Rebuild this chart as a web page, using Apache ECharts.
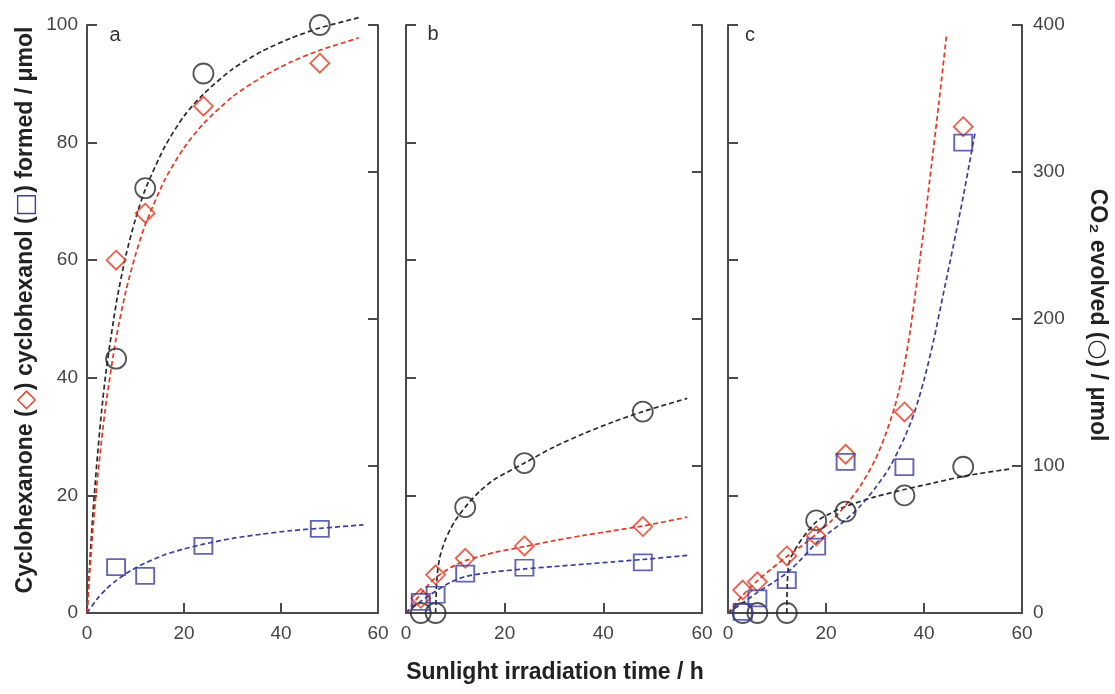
<!DOCTYPE html>
<html>
<head>
<meta charset="utf-8">
<title>Photocatalytic oxidation under sunlight</title>
<script src="https://cdn.jsdelivr.net/npm/echarts@6/dist/echarts.min.js"></script>
<style>
  html, body { margin: 0; padding: 0; background: #fff; }
  #chart { width: 1115px; height: 694px; }
</style>
</head>
<body>
<div id="chart"></div>
<script>
// Sampling times (h) for each panel
const hoursA = [6, 12, 24, 48];
const hoursB = [3, 6, 12, 24, 48];
const hoursC = [3, 6, 12, 18, 24, 36, 48];

// Cyclohexanone (µmol), left axis
const ketoneA = [60.0, 68.0, 86.2, 93.5];
const ketoneB = [2.5, 6.5, 9.3, 11.4, 14.7];
const ketoneC = [3.9, 5.3, 9.7, 13.1, 27.0, 34.2, 82.7];

// Cyclohexanol (µmol), left axis
const alcoholA = [7.8, 6.3, 11.4, 14.3];
const alcoholB = [1.9, 3.1, 6.7, 7.7, 8.6];
const alcoholC = [0.2, 2.5, 5.6, 11.3, 25.7, 24.8, 80.0];

// CO2 evolved (µmol), right axis
const co2A = [173, 289, 367, 400];
const co2B = [0, 0, 72, 102, 137];
const co2C = [0, 0, 0, 63, 69, 80, 99.5];

// Fitted trend curves, [time, amount]
const fitKetoneA = [[0,0],[1,11.9],[2,21.5],[3,29.4],[4,36.1],[6,46.7],[8,54.7],[10,60.9],[12,66.0],[16,73.6],[20,79.1],[24,83.2],[30,87.8],[36,91.1],[42,93.7],[48,95.7],[56,97.8]];
const fitAlcoholA = [[0,0],[2,2.3],[4,4.1],[6,5.5],[9,7.2],[12,8.5],[16,9.9],[20,10.9],[24,11.7],[30,12.7],[36,13.4],[42,14.0],[48,14.4],[57,15.0]];
const fitCo2A = [[0,0],[1,57],[2,101],[3,137],[4,166],[6,210],[8,243],[10,268],[12,288],[16,317],[20,338],[24,353],[30,370],[36,382],[42,391],[48,398],[56,405]];

const fitKetoneB = [[0,0],[2,2.2],[4,4.3],[6,6.0],[9,7.7],[12,8.9],[18,10.3],[24,11.3],[30,12.3],[36,13.2],[42,14.0],[48,14.8],[57,16.3]];
const fitAlcoholB = [[0,0],[3,2.0],[6,3.7],[9,5.2],[12,6.2],[18,7.0],[24,7.5],[30,7.9],[36,8.3],[42,8.7],[48,9.1],[57,9.8]];
const fitCo2B = [[6,0],[6.2,20],[6.5,31],[7,40],[8,50],[9,57],[10,63],[12,72],[15,83],[18,91],[24,102],[30,113],[36,122],[42,130],[48,137],[57,146]];

const fitKetoneC = [[0,0],[3,3.0],[6,5.5],[9,7.6],[12,9.6],[15,11.4],[18,13.4],[21,15.6],[24,18.3],[27,21.6],[30,26],[32,30],[34,35],[35.5,40],[37,47],[38.5,56],[40,65.5],[41.5,76],[43,86.5],[44.6,98.3]];
const fitAlcoholC = [[0,0],[3,1.7],[6,3.5],[9,5.1],[12,6.8],[15,9.2],[18,11.9],[21,13.9],[24,15.8],[27,18.2],[30,21.2],[33,24.8],[36,29.8],[38,34],[40,39.6],[42,46.5],[44,54.5],[46,62.5],[48,70.8],[49.5,77.5],[50.4,81.6]];
const fitCo2C = [[12,0],[12.1,20],[12.4,33],[13,39],[15,50],[18,62],[21,68],[24,72.5],[30,79],[36,84],[42,88.5],[48,93],[57.5,98]];

// Axis tick settings
const timeTicks = { min: 0, max: 60, interval: 20 };
const amountTicks = { min: 0, max: 100, interval: 20 };
const co2Ticks = { min: 0, max: 400, interval: 100 };

const FONT = "'Liberation Sans', Arial, Helvetica, sans-serif";
const AXIS_COLOR = '#4a4a4a';
const LABEL_COLOR = '#444';
const BLACK = '#2a2a2a';
const RED = '#e8361f';
const BLUE = '#3b3f9e';

const zip = (xs, ys) => xs.map((x, i) => [x, ys[i]]);

const panels = [
  { left: 87,  width: 291, hours: hoursA, ketone: ketoneA, alcohol: alcoholA, co2: co2A,
    fits: [fitCo2A, fitKetoneA, fitAlcoholA], leftLabels: true, rightLabels: false },
  { left: 406, width: 296, hours: hoursB, ketone: ketoneB, alcohol: alcoholB, co2: co2B,
    fits: [fitCo2B, fitKetoneB, fitAlcoholB], leftLabels: false, rightLabels: false },
  { left: 728, width: 294, hours: hoursC, ketone: ketoneC, alcohol: alcoholC, co2: co2C,
    fits: [fitCo2C, fitKetoneC, fitAlcoholC], leftLabels: false, rightLabels: true }
];

const axisLine = { show: true, onZero: false, lineStyle: { color: AXIS_COLOR, width: 2 } };
const axisTick = { show: true, inside: true, length: 10, lineStyle: { color: AXIS_COLOR, width: 2 } };
const labelStyle = { color: LABEL_COLOR, fontSize: 19, fontFamily: FONT };

const grid = [], xAxis = [], yAxis = [], series = [];

panels.forEach((p, i) => {
  grid.push({ left: p.left, width: p.width, top: 25, height: 588, containLabel: false });
  xAxis.push(Object.assign({
    type: 'value', gridIndex: i, position: 'bottom',
    axisLine, axisTick, splitLine: { show: false },
    axisLabel: Object.assign({ margin: 11, showMinLabel: true, showMaxLabel: true }, labelStyle)
  }, timeTicks));
  yAxis.push(Object.assign({
    type: 'value', gridIndex: i, position: 'left',
    axisLine, axisTick, splitLine: { show: false },
    axisLabel: Object.assign({ show: p.leftLabels, margin: 9 }, labelStyle)
  }, amountTicks));
  yAxis.push(Object.assign({
    type: 'value', gridIndex: i, position: 'right',
    axisLine, axisTick, splitLine: { show: false },
    axisLabel: Object.assign({ show: p.rightLabels, margin: 11, align: 'left' }, labelStyle)
  }, co2Ticks));

  const colors = [BLACK, RED, BLUE];
  const yIdx = [2 * i + 1, 2 * i, 2 * i];
  p.fits.forEach((fit, k) => {
    series.push({
      type: 'line', xAxisIndex: i, yAxisIndex: yIdx[k], data: fit,
      smooth: 0.25, showSymbol: false, clip: false, silent: true,
      lineStyle: { color: colors[k], width: 1.7, type: [5, 3] }, z: 2
    });
  });

  const marker = (data, yi, symbol, size, color) => ({
    type: 'scatter', xAxisIndex: i, yAxisIndex: yi, data,
    symbol, symbolSize: size, clip: false, silent: true,
    itemStyle: { color: 'rgba(0,0,0,0)', borderColor: color, borderWidth: 1.8 }, z: 3
  });
  series.push(marker(zip(p.hours, p.co2), 2 * i + 1, 'circle', 20, BLACK));
  series.push(marker(zip(p.hours, p.ketone), 2 * i, 'diamond', [19, 19], RED));
  series.push(marker(zip(p.hours, p.alcohol), 2 * i, 'rect', [18, 16], BLUE));
});

const titleStyle = { fontFamily: FONT, fontSize: 23, fontWeight: 'bold', fill: '#222' };

const option = {
  animation: false,
  backgroundColor: '#fff',
  grid, xAxis, yAxis, series,
  graphic: [
    { type: 'text', x: 115, y: 35, style: { text: 'a', font: '20px ' + FONT, fill: '#333', align: 'center', verticalAlign: 'middle' } },
    { type: 'text', x: 433, y: 34, style: { text: 'b', font: '20px ' + FONT, fill: '#333', align: 'center', verticalAlign: 'middle' } },
    { type: 'text', x: 750, y: 35, style: { text: 'c', font: '20px ' + FONT, fill: '#333', align: 'center', verticalAlign: 'middle' } },
    {
      type: 'text', x: 555, y: 673,
      style: Object.assign({ text: 'Sunlight irradiation time / h', align: 'center', verticalAlign: 'middle' }, titleStyle)
    },
    {
      type: 'text', x: 26, y: 310, rotation: Math.PI / 2,
      style: Object.assign({
        text: 'Cyclohexanone ({r|◇}) cyclohexanol ({b|□}) formed / μmol',
        align: 'center', verticalAlign: 'middle',
        rich: {
          r: { fill: RED, fontSize: 25, fontFamily: "'DejaVu Sans', sans-serif" },
          b: { fill: BLUE, fontSize: 25, fontFamily: "'DejaVu Sans', sans-serif" }
        }
      }, titleStyle)
    },
    {
      type: 'text', x: 1097, y: 315, rotation: -Math.PI / 2,
      style: Object.assign({
        text: 'CO₂ evolved ({k|○}) / μmol',
        align: 'center', verticalAlign: 'middle',
        rich: { k: { fill: '#222', fontSize: 23, fontFamily: "'DejaVu Sans', sans-serif" } }
      }, titleStyle)
    }
  ]
};

const chart = echarts.init(document.getElementById('chart'), null, { renderer: 'canvas' });
chart.setOption(option);
</script>
</body>
</html>
